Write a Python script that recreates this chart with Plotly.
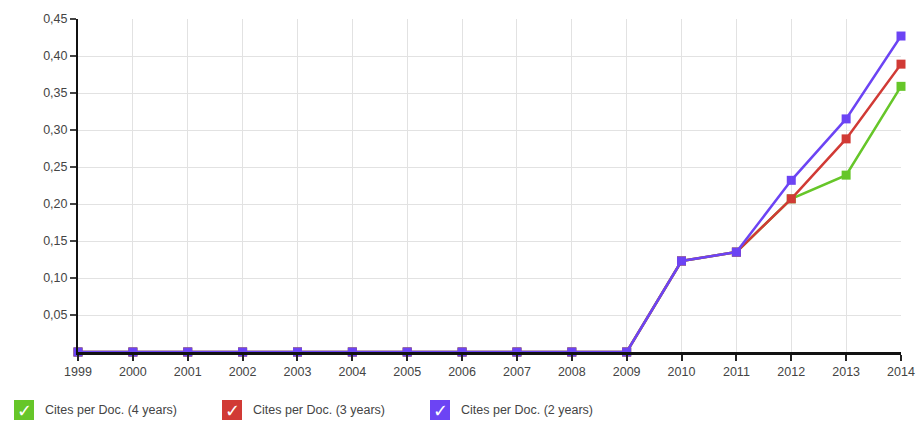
import plotly.graph_objects as go

years = list(range(1999, 2015))
cites_4y = [0, 0, 0, 0, 0, 0, 0, 0, 0, 0, 0, 0.123, 0.135, 0.207, 0.239, 0.359]
cites_3y = [0, 0, 0, 0, 0, 0, 0, 0, 0, 0, 0, 0.123, 0.135, 0.207, 0.288, 0.389]
cites_2y = [0, 0, 0, 0, 0, 0, 0, 0, 0, 0, 0, 0.123, 0.135, 0.232, 0.315, 0.427]

series_names = ['Cites per Doc. (4 years)', 'Cites per Doc. (3 years)', 'Cites per Doc. (2 years)']
colors = ['#66c629', '#d13a35', '#6c44f4']
y_ticks = [0.05, 0.10, 0.15, 0.20, 0.25, 0.30, 0.35, 0.40, 0.45]

fig = go.Figure()
for name, vals, col in zip(series_names, [cites_4y, cites_3y, cites_2y], colors):
    fig.add_trace(go.Scatter(
        x=years, y=vals, name=name, mode='lines+markers',
        line=dict(color=col, width=2.5),
        marker=dict(symbol='square', size=9, color=col),
        cliponaxis=False, showlegend=False
    ))

# custom legend with check boxes
left, width_px, bottom, height_px = 78, 823, 352, 333
box_x = [14, 222, 430]
for name, col, bx in zip(series_names, colors, box_x):
    x0 = (bx - left) / width_px
    x1 = (bx + 20 - left) / width_px
    y0 = (bottom - 420) / height_px
    y1 = (bottom - 400) / height_px
    fig.add_shape(type='rect', xref='paper', yref='paper', x0=x0, x1=x1, y0=y0, y1=y1,
                  fillcolor=col, line=dict(width=0))
    fig.add_annotation(xref='paper', yref='paper', x=(x0 + x1) / 2, y=(y0 + y1) / 2,
                       text='✓', showarrow=False, font=dict(color='white', size=18, family='DejaVu Sans'),
                       xanchor='center', yanchor='middle')
    fig.add_annotation(xref='paper', yref='paper', x=(bx + 29 - left) / width_px, y=(y0 + y1) / 2,
                       text=name, showarrow=False, font=dict(color='#444', size=12.5),
                       xanchor='left', yanchor='middle')

fig.update_layout(
    width=922, height=423,
    margin=dict(l=78, r=21, t=19, b=71),
    plot_bgcolor='white', paper_bgcolor='white',
    separators=', ',
    font=dict(family='Liberation Sans, Arial, sans-serif', size=12.5, color='#444'),
    xaxis=dict(
        range=[1999, 2014], tickvals=years, ticks='outside', ticklen=6, tickwidth=2,
        tickcolor='#222', showline=True, linecolor='#111', linewidth=2.5,
        showgrid=True, gridcolor='#e2e2e2', zeroline=False, automargin=False
    ),
    yaxis=dict(
        range=[0, 0.45], tickvals=y_ticks, tickformat='.2f', ticks='outside', ticklen=6,
        tickwidth=2, tickcolor='#444', showline=True, linecolor='#111', linewidth=2,
        showgrid=True, gridcolor='#e2e2e2', zeroline=False, automargin=False
    ),
)

# drop the default page margin so the figure sits at the window's top-left corner
fig.write_html("out.html", config={'displayModeBar': False},
               post_script="document.body.style.margin='0';document.body.style.overflow='hidden';")
